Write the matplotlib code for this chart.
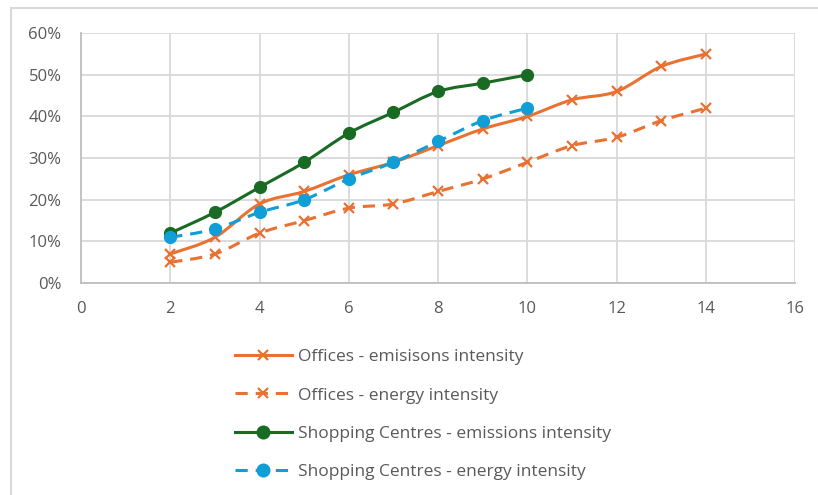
import matplotlib.pyplot as plt
import numpy as np
from matplotlib.path import Path
from matplotlib.patches import PathPatch, Rectangle
from matplotlib.lines import Line2D
from matplotlib.ticker import PercentFormatter

plt.rcParams['font.family'] = ['Open Sans', 'DejaVu Sans']

# series values (fractions)
offices_x = [2, 3, 4, 5, 6, 7, 8, 9, 10, 11, 12, 13, 14]
offices_emissions = [0.07, 0.11, 0.19, 0.22, 0.26, 0.29, 0.33, 0.37, 0.40, 0.44, 0.46, 0.52, 0.55]
offices_energy = [0.05, 0.07, 0.12, 0.15, 0.18, 0.19, 0.22, 0.25, 0.29, 0.33, 0.35, 0.39, 0.42]

shops_x = [2, 3, 4, 5, 6, 7, 8, 9, 10]
shops_emissions = [0.12, 0.17, 0.23, 0.29, 0.36, 0.41, 0.46, 0.48, 0.50]
shops_energy = [0.11, 0.13, 0.17, 0.20, 0.25, 0.29, 0.34, 0.39, 0.42]

labels = ["Offices - emisisons intensity",
          "Offices - energy intensity",
          "Shopping Centres - emissions intensity",
          "Shopping Centres - energy intensity"]

ORANGE = "#E97132"
GREEN = "#196B24"
BLUE = "#0F9ED5"
GRID = "#D9D9D9"
TXT = "#595959"


def smooth_path(x, y):
    # cubic bezier through every point, like a spreadsheet "smoothed line"
    p = np.column_stack([x, y]).astype(float)
    verts = [p[0]]
    codes = [Path.MOVETO]
    n = len(p)
    for i in range(n - 1):
        p0 = p[i - 1] if i > 0 else p[i]
        p1 = p[i]
        p2 = p[i + 1]
        p3 = p[i + 2] if i + 2 < n else p[i + 1]
        c1 = p1 + (p2 - p0) / 6.0
        c2 = p2 - (p3 - p1) / 6.0
        verts += [c1, c2, p2]
        codes += [Path.CURVE4] * 3
    return Path(verts, codes)


fig = plt.figure(figsize=(8.18, 4.95), dpi=100)
ax = fig.add_axes([0.099, 0.428, 0.873, 0.505])

series = [
    (offices_x, offices_emissions, ORANGE, "-", "x"),
    (offices_x, offices_energy, ORANGE, "--", "x"),
    (shops_x, shops_emissions, GREEN, "-", "o"),
    (shops_x, shops_energy, BLUE, "--", "o"),
]

handles = []
for (x, y, c, ls, mk), lab in zip(series, labels):
    dash = (0, (4, 2.6)) if ls == "--" else "-"
    ax.add_patch(PathPatch(smooth_path(x, y), fill=False, edgecolor=c,
                           lw=2.2, linestyle=dash, capstyle="butt", zorder=3))
    if mk == "o":
        ax.plot(x, y, ls="none", marker="o", ms=8.5, color=c, zorder=4)
    else:
        ax.plot(x, y, ls="none", marker="x", ms=7.5, mew=1.6, color=c, zorder=4)
    handles.append(Line2D([], [], color=c, lw=2.2, linestyle=dash, marker=mk,
                          ms=8.5 if mk == "o" else 7.5, mew=1.6, label=lab))

ax.set_xlim(0, 16)
ax.set_ylim(0, 0.6)
ax.set_xticks(range(0, 17, 2))
ax.set_yticks(np.arange(0, 0.61, 0.1))
ax.yaxis.set_major_formatter(PercentFormatter(1.0, decimals=0))
ax.grid(True, color=GRID, lw=1.3)
ax.set_axisbelow(True)
for s in ["top", "right"]:
    ax.spines[s].set_visible(False)
for s in ["left", "bottom"]:
    ax.spines[s].set_color("#BFBFBF")
    ax.spines[s].set_linewidth(1.3)
ax.tick_params(length=0, labelsize=12, labelcolor=TXT)
ax.tick_params(axis="y", pad=14)
ax.tick_params(axis="x", pad=13)

fig.legend(handles=handles, loc="upper left", bbox_to_anchor=(0.287, 0.295),
           frameon=False, fontsize=12.5, labelcolor=TXT, handlelength=3.3,
           handletextpad=0.35, labelspacing=1.28, borderpad=0, borderaxespad=0)

# chart area frame
fig.patches.append(Rectangle((11 / 818, -0.1), 1.2, 1 - 8 / 495 + 0.1,
                             transform=fig.transFigure, fill=False,
                             edgecolor="#D9D9D9", lw=1.5))

fig.savefig("out.png", dpi=100)
